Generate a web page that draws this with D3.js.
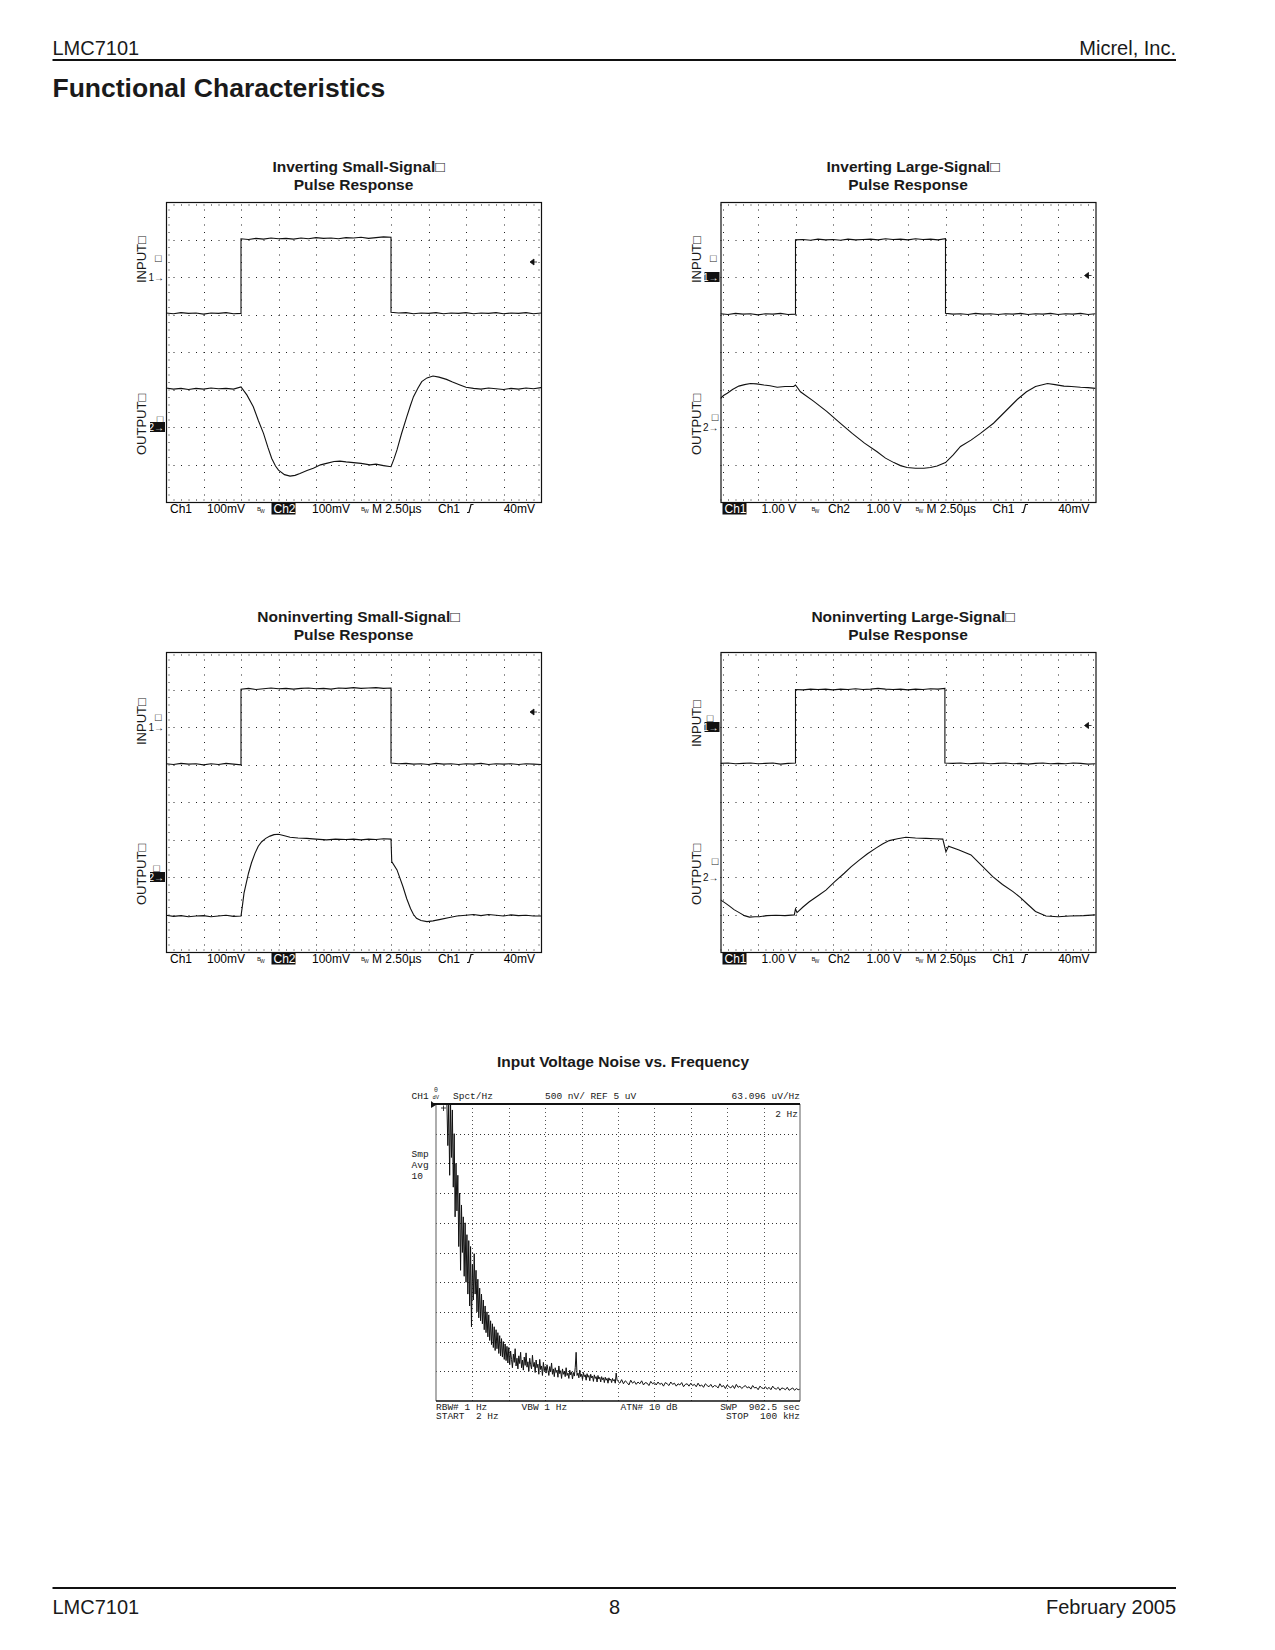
<!DOCTYPE html>
<html>
<head>
<meta charset="utf-8">
<script src="https://cdn.jsdelivr.net/npm/d3@7/dist/d3.min.js"></script>
<style>
html,body{margin:0;padding:0;background:#fff;}
svg{display:block;}
text{font-family:"Liberation Sans",Arial,Helvetica,sans-serif;fill:#1a1a1a;}
.mono{font-family:"Liberation Mono","DejaVu Sans Mono",monospace;white-space:pre;}
.pre{white-space:pre;}
</style>
</head>
<body>
<svg id="page" width="1275" height="1650"></svg>
<script>
// ---------------- page text ----------------
const headerLeft = "LMC7101";
const headerRight = "Micrel, Inc.";
const sectionTitle = "Functional Characteristics";
const footerLeft = "LMC7101";
const footerCenter = "8";
const footerRight = "February 2005";

// ---------------- scope settings ----------------
const timePerDivUs = 2.5;
const timeDivs = 10;
const vertDivs = 8;
const ch1GroundDiv = 2;
const ch2GroundDiv = 6;
const triggerLevelMv = 40;

const titleInvSmall = ["Inverting Small-Signal\u25A1", "Pulse Response"];
const titleInvLarge = ["Inverting Large-Signal\u25A1", "Pulse Response"];
const titleNonInvSmall = ["Noninverting Small-Signal\u25A1", "Pulse Response"];
const titleNonInvLarge = ["Noninverting Large-Signal\u25A1", "Pulse Response"];
const inputLabel = "INPUT\u25A1";
const outputLabel = "OUTPUT\u25A1";
const smallSignalLabels = ["Ch1", "100mV", "Ch2", "100mV", "M 2.50\u00B5s", "Ch1", "40mV"];
const largeSignalLabels = ["Ch1", "1.00 V", "Ch2", "1.00 V", "M 2.50\u00B5s", "Ch1", "40mV"];

// ---------------- traces [time us, level] ----------------
// Inverting small-signal (mV)
const invSmallInput = [[0,-96],[0.5,-98],[1,-95],[1.5,-97],[2,-96],[2.5,-99],[3,-96],[3.5,-97],[4,-95],[4.5,-98],[5,-97],
 [5,102],[5.5,100],[6,103],[6.5,101],[7,104],[7.5,102],[8,103],[8.5,101],[9,104],[9.5,102],[10,105],[10.5,103],[11,104],[11.5,102],[12,105],[12.5,104],[13,106],[13.5,103],[14,105],[14.5,107],[15,106],
 [15,-94],[15.5,-96],[16,-95],[16.5,-98],[17,-96],[17.5,-97],[18,-95],[18.5,-98],[19,-96],[19.5,-97],[20,-95],[20.5,-98],[21,-96],[21.5,-97],[22,-95],[22.5,-98],[23,-96],[23.5,-97],[24,-95],[24.5,-98],[25,-96]];
const invSmallOutput = [[0,104],[0.5,101],[1,103],[1.5,100],[2,103],[2.5,101],[3,104],[3.5,102],[4,103],[4.5,101],[5,107],
 [5.4,85],[5.82,54],[6.15,18],[6.5,-17],[6.8,-55],[7.05,-84],[7.3,-104],[7.5,-115],[7.9,-127],[8.27,-131],[8.6,-129],[8.93,-124],
 [9.4,-116],[9.82,-110],[10.3,-101],[10.7,-97],[11.2,-92],[11.6,-91],[12,-93],[12.5,-95],[13,-97],[13.6,-101],[14,-99],[14.5,-103],[15,-106],
 [15.2,-85],[15.4,-61],[15.7,-18],[16.05,27],[16.3,58],[16.5,81],[16.8,104],[17.05,121],[17.4,131],[17.8,136],[18.2,133],[18.7,127],
 [19.1,120],[19.6,112],[20,106],[20.5,103],[21,101],[21.5,104],[22,102],[22.5,100],[23,103],[23.5,101],[24,104],[24.5,102],[25,105]];

// Inverting large-signal (V)
const invLargeInput = [[0,-0.98],[0.5,-1.0],[1,-0.97],[1.5,-0.99],[2,-0.98],[2.5,-1.01],[3,-0.98],[3.5,-0.99],[4,-0.97],[4.5,-1.0],[5,-0.99],
 [5,0.99],[5.5,1.0],[6,0.98],[6.5,1.01],[7,0.99],[7.5,1.0],[8,0.98],[8.5,1.01],[9,0.99],[9.5,1.0],[10,1.01],[10.5,0.99],[11,1.02],[11.5,1.0],[12,1.01],[12.5,0.99],[13,1.02],[13.5,1.0],[14,1.01],[14.5,0.99],[15,1.02],
 [15,-0.97],[15.5,-0.99],[16,-0.98],[16.5,-1.0],[17,-0.97],[17.5,-0.99],[18,-0.98],[18.5,-1.0],[19,-0.98],[19.5,-0.99],[20,-0.97],[20.5,-1.0],[21,-0.98],[21.5,-0.99],[22,-0.97],[22.5,-1.0],[23,-0.98],[23.5,-0.99],[24,-0.97],[24.5,-1.0],[25,-0.98]];
const invLargeOutput = [[0,0.76],[0.2,0.84],[0.45,0.9],[0.8,1.0],[1.22,1.09],[1.6,1.13],[2,1.16],[2.4,1.15],[2.9,1.12],[3.3,1.1],[3.78,1.06],[4.3,1.08],[4.88,1.08],[5,1.12],
 [5.33,0.94],[6.2,0.69],[7.1,0.41],[7.9,0.13],[8.78,-0.17],[9.6,-0.43],[10.44,-0.66],[11,-0.83],[11.56,-0.95],[12,-1.03],[12.44,-1.08],[13,-1.1],[13.56,-1.1],[14,-1.08],[14.44,-1.04],[15,-0.95],
 [15.5,-0.75],[16,-0.52],[16.7,-0.35],[17.33,-0.17],[18.2,0.1],[18.7,0.3],[19.3,0.54],[19.8,0.74],[20.4,0.94],[21,1.08],[21.8,1.16],[22.3,1.13],[22.9,1.09],[23.4,1.08],[24,1.06],[24.5,1.05],[25,1.03]];

// Noninverting small-signal (mV)
const nonInvSmallInput = [[0,-98],[0.5,-100],[1,-97],[1.5,-99],[2,-98],[2.5,-101],[3,-98],[3.5,-100],[4,-97],[4.5,-99],[5,-101],
 [5,101],[5.5,103],[6,100],[6.5,102],[7,104],[7.5,102],[8,103],[8.5,101],[9,103],[9.5,104],[10,102],[10.5,103],[11,101],[11.5,104],[12,103],[12.5,105],[13,103],[13.5,104],[14,105],[14.5,103],[15,104],
 [15,-96],[15.5,-98],[16,-97],[16.5,-99],[17,-98],[17.5,-100],[18,-97],[18.5,-99],[19,-98],[19.5,-100],[20,-98],[20.5,-99],[21,-97],[21.5,-100],[22,-98],[22.5,-99],[23,-98],[23.5,-100],[24,-98],[24.5,-99],[25,-100]];
const nonInvSmallOutput = [[0,-102],[0.5,-105],[1,-103],[1.5,-106],[2,-104],[2.5,-103],[3,-106],[3.5,-104],[4,-102],[4.5,-105],[5,-104],
 [5.1,-75],[5.2,-43],[5.5,10],[5.7,38],[5.93,63],[6.15,82],[6.38,94],[6.65,103],[6.93,109],[7.2,113],[7.5,114],[7.9,110],[8.27,106],[8.8,104],[9.38,103],
 [10,101],[10.7,99],[11.3,101],[12,100],[12.5,101],[13,99],[13.5,101],[14,100],[14.5,102],[15,101],
 [15.05,41],[15.4,19],[15.8,-26],[16.05,-58],[16.3,-84],[16.5,-100],[16.7,-110],[17,-116],[17.4,-119],[17.8,-117],[18.3,-113],[18.9,-108],[19.4,-104],
 [20,-102],[20.5,-100],[21,-103],[21.5,-100],[22,-102],[22.5,-104],[23,-101],[23.5,-103],[24,-102],[24.5,-104],[25,-104]];

// Noninverting large-signal (V)
const nonInvLargeInput = [[0,-0.97],[0.5,-0.96],[1,-0.98],[1.5,-0.97],[2,-0.96],[2.5,-0.98],[3,-0.97],[3.5,-0.96],[4,-0.99],[4.5,-0.97],[5,-0.96],
 [5,1.0],[5.5,0.99],[6,1.01],[6.5,1.0],[7,1.01],[7.5,0.99],[8,1.01],[8.5,1.0],[9,1.02],[9.5,1.0],[10,1.01],[10.5,1.03],[11,1.01],[11.5,1.0],[12,1.01],[12.5,0.99],[13,1.01],[13.5,1.0],[14,1.02],[14.5,1.01],[14.96,1.03],
 [14.96,-0.96],[15.5,-0.97],[16,-0.96],[16.5,-0.98],[17,-0.97],[17.5,-0.96],[18,-0.98],[18.5,-0.97],[19,-0.96],[19.5,-0.98],[20,-0.97],[20.5,-0.99],[21,-0.97],[21.5,-0.96],[22,-0.98],[22.5,-0.97],[23,-0.98],[23.5,-0.96],[24,-0.97],[24.5,-0.99],[25,-0.98]];
const nonInvLargeOutput = [[0,-0.61],[0.3,-0.69],[0.58,-0.77],[0.9,-0.87],[1.25,-0.95],[1.6,-1.03],[1.93,-1.07],[2.3,-1.06],[2.58,-1.06],[3.1,-1.03],[3.7,-1.02],[4.3,-1.03],[4.92,-1.01],
 [5,-0.85],[5.1,-0.95],[5.5,-0.8],[5.92,-0.66],[6.5,-0.5],[7.03,-0.35],[7.6,-0.13],[8.25,0.1],[8.7,0.27],[9.25,0.45],[9.8,0.62],[10.36,0.77],[10.8,0.88],[11.25,0.97],[11.8,1.02],[12.36,1.06],
 [13,1.04],[13.7,1.03],[14.3,1.02],[14.82,1.01],[15.03,0.67],[15.2,0.82],[15.9,0.72],[16.7,0.59],[17.4,0.31],[18.15,0.01],[18.8,-0.2],[19.5,-0.39],[20,-0.55],[20.4,-0.7],[21,-0.92],[21.7,-1.04],
 [22.5,-1.06],[23.3,-1.04],[24.2,-1.03],[25,-1.01]];

// ---------------- noise analyzer ----------------
const noiseTitle = "Input Voltage Noise vs. Frequency";
const noiseStartKHz = 0.002;
const noiseStopKHz = 100;
const noiseRefNv = 5000;      // REF 5 uV at top
const noiseNvPerDiv = 500;    // 500 nV / div
const noiseHeaderTexts = ["CH1", "Spct/Hz", "500 nV/ REF 5 uV", "63.096 uV/Hz", "2 Hz"];
const noiseSideTexts = ["Smp", "Avg", "10"];
const noiseFooterTexts = ["RBW# 1 Hz", "VBW 1 Hz", "ATN# 10 dB", "SWP  902.5 sec", "START  2 Hz", "STOP  100 kHz"];
// off-scale start (clipped at top)
const noiseLead = [[0.002, 6000], [2.8, 6000]];
// 3.0 .. 20.0 kHz every 0.25 kHz (nV/rtHz)
const noiseSegA = [5600,4300,5400,3800,5200,4100,4900,3600,4500,3100,4000,3200,3800,2600,3500,2200,3300,2500,3100,2100,
 3000,2000,2800,1800,2700,1600,2600,1250,2300,1700,2480,1800,2200,1500,2050,1400,1900,1350,1800,1300,
 1700,1200,1600,1150,1500,1080,1450,1020,1350,950,1300,900,1250,850,1200,880,1150,800,1100,760,
 1050,740,1000,700,960,680,920,640,900];
// 20.25 .. 50.0 kHz every 0.25 kHz
const noiseSegB = [610,840,700,560,790,650,880,590,720,540,
 760,630,820,560,690,520,740,600,810,570,
 660,500,720,610,540,770,580,650,480,690,
 560,620,450,700,530,590,430,650,510,580,
 470,610,520,430,580,490,640,450,540,410,
 560,480,520,400,590,460,510,380,540,450,
 500,410,560,430,470,380,520,440,490,370,
 480,420,560,820,430,470,390,520,410,450,
 360,480,410,440,350,460,400,430,340,450,
 390,420,330,440,380,410,320,430,370,400,
 320,410,360,390,310,400,350,380,300,390,
 350,370,310,380,340,360,300,470,350,330];
// 50.5 .. 100 kHz every 0.5 kHz
const noiseSegC = [300,360,290,340,310,270,350,300,330,280,
 320,290,340,270,310,300,260,330,290,310,
 270,320,280,300,250,310,290,260,320,280,
 300,250,290,270,310,240,280,290,250,300,
 260,280,240,300,250,270,230,290,260,240,
 280,230,260,250,220,290,240,260,210,270,
 240,220,260,210,280,230,250,210,240,260,
 220,240,200,260,220,230,190,250,220,210,
 240,200,230,190,250,210,200,230,180,220,
 210,190,230,180,200,220,180,210,190,200];

// ---------------- drawing ----------------
const svg = d3.select("#page");
const defs = svg.append("defs");
const W = 375, H = 300;
const ink = "#111";

// header / footer
svg.append("text").attr("x", 52.5).attr("y", 54.5).attr("font-size", 20).text(headerLeft);
svg.append("text").attr("x", 1176).attr("y", 54.5).attr("font-size", 20).attr("text-anchor", "end").text(headerRight);
svg.append("line").attr("x1", 52.5).attr("x2", 1176).attr("y1", 60).attr("y2", 60).attr("stroke", ink).attr("stroke-width", 2);
svg.append("text").attr("x", 52.5).attr("y", 96.5).attr("font-size", 26.5).attr("font-weight", "bold").text(sectionTitle);
svg.append("line").attr("x1", 52.5).attr("x2", 1176).attr("y1", 1588).attr("y2", 1588).attr("stroke", ink).attr("stroke-width", 2);
svg.append("text").attr("x", 52.5).attr("y", 1613.5).attr("font-size", 20).text(footerLeft);
svg.append("text").attr("x", 614.5).attr("y", 1613.5).attr("font-size", 20).attr("text-anchor", "middle").text(footerCenter);
svg.append("text").attr("x", 1176).attr("y", 1613.5).attr("font-size", 20).attr("text-anchor", "end").text(footerRight);

const scopes = [
  {id: 1, title: titleInvSmall, left: 166, top: 202, vpd: 100, input: invSmallInput, output: invSmallOutput,
   labels: smallSignalLabels, inverted: 2, inEnd: 81, inBox: [-7.7, 56.3], outBox: [-6, 216.5]},
  {id: 2, title: titleInvLarge, left: 720.5, top: 202, vpd: 1, input: invLargeInput, output: invLargeOutput,
   labels: largeSignalLabels, inverted: 1, inEnd: 81, inBox: [-7.2, 56.3], outBox: [-5.5, 214.5]},
  {id: 3, title: titleNonInvSmall, left: 166, top: 652, vpd: 100, input: nonInvSmallInput, output: nonInvSmallOutput,
   labels: smallSignalLabels, inverted: 2, inEnd: 93, inBox: [-7.7, 64.5], outBox: [-9.3, 216]},
  {id: 4, title: titleNonInvLarge, left: 720.5, top: 652, vpd: 1, input: nonInvLargeInput, output: nonInvLargeOutput,
   labels: largeSignalLabels, inverted: 1, inEnd: 95, inBox: [-10.5, 66], outBox: [-5.5, 208.5]}
];

// bottom label x offsets from box left (Ch1, V1, Ch2, V2, timebase, trig src, trig level end)
const labelOffsets = [4, 41, 107.5, 146, 206, 272, 369];
const bwOffsets = [91, 195];
const edgeOffset = 301;

function dottedLine(g, x1, y1, x2, y2, dash, color) {
  g.append("line").attr("x1", x1).attr("y1", y1).attr("x2", x2).attr("y2", y2)
    .attr("stroke", color).attr("stroke-width", 1).attr("stroke-dasharray", dash);
}

function drawScope(c) {
  const L = c.left, T = c.top;
  const g = svg.append("g");
  const x = d3.scaleLinear().domain([0, timePerDivUs * timeDivs]).range([L, L + W]);
  const yDiv = d3.scaleLinear().domain([0, vertDivs]).range([T, T + H]);
  const y1 = d3.scaleLinear().domain([ch1GroundDiv * c.vpd, (ch1GroundDiv - vertDivs) * c.vpd]).range([T, T + H]);
  const y2 = d3.scaleLinear().domain([ch2GroundDiv * c.vpd, (ch2GroundDiv - vertDivs) * c.vpd]).range([T, T + H]);
  const cx = L + W / 2;

  g.append("text").attr("x", cx + 5).attr("y", T - 30).attr("text-anchor", "middle")
    .attr("font-size", 15.5).attr("font-weight", "bold").text(c.title[0]);
  g.append("text").attr("x", cx).attr("y", T - 12.5).attr("text-anchor", "middle")
    .attr("font-size", 15.5).attr("font-weight", "bold").text(c.title[1]);

  // graticule
  const gc = "#222";
  d3.range(1, timeDivs).forEach(i => {
    const xx = Math.round(x(i * timePerDivUs)) + 0.5;
    dottedLine(g, xx, T, xx, T + H, "1 6.5", gc);
  });
  d3.range(1, vertDivs).forEach(j => {
    const yy = Math.round(yDiv(j)) + 0.5;
    dottedLine(g, L, yy, L + W, yy, "1 6.5", gc);
  });
  dottedLine(g, L + 3, T, L + 3, T + H, "1 6.5", gc);
  dottedLine(g, L + W - 2, T, L + W - 2, T + H, "1 6.5", gc);
  dottedLine(g, L, T + 3, L + W, T + 3, "1 6.5", gc);
  dottedLine(g, L, T + H - 2, L + W, T + H - 2, "1 6.5", gc);

  // traces
  const clipId = "clip" + c.id;
  defs.append("clipPath").attr("id", clipId).append("rect").attr("x", L).attr("y", T).attr("width", W).attr("height", H);
  const l1 = d3.line().x(d => x(d[0])).y(d => y1(d[1]));
  const l2 = d3.line().x(d => x(d[0])).y(d => y2(d[1]));
  g.append("path").attr("d", l1(c.input)).attr("fill", "none").attr("stroke", ink).attr("stroke-width", 1.1).attr("clip-path", `url(#${clipId})`);
  g.append("path").attr("d", l2(c.output)).attr("fill", "none").attr("stroke", ink).attr("stroke-width", 1.1).attr("clip-path", `url(#${clipId})`);

  // frame
  g.append("rect").attr("x", L + 0.5).attr("y", T + 0.5).attr("width", W).attr("height", H)
    .attr("fill", "none").attr("stroke", ink).attr("stroke-width", 1.2);

  // side labels
  g.append("text").attr("transform", `translate(${L - 19.7},${T + c.inEnd}) rotate(-90)`).attr("font-size", 13).text(inputLabel);
  g.append("text").attr("transform", `translate(${L - 19.7},${T + 253}) rotate(-90)`).attr("font-size", 13).text(outputLabel);
  g.append("text").attr("x", L + c.inBox[0]).attr("y", T + c.inBox[1] + 4).attr("text-anchor", "middle").attr("font-size", 11).text("\u25A1");
  g.append("text").attr("x", L + c.outBox[0]).attr("y", T + c.outBox[1] + 4).attr("text-anchor", "middle").attr("font-size", 11).text("\u25A1");

  // channel markers
  [[1, y1(0)], [2, y2(0)]].forEach(([ch, yy]) => {
    const inv = c.inverted === ch;
    if (inv) g.append("rect").attr("x", L - 16).attr("y", yy - 5).attr("width", 15).attr("height", 10).attr("fill", ink);
    g.append("text").attr("x", L - 2).attr("y", yy + 3.5).attr("text-anchor", "end").attr("font-size", 10)
      .style("fill", inv ? "#fff" : ink).text(ch + "\u2192");
  });

  // trigger arrow
  const ta = y1(c.vpd === 1 ? triggerLevelMv / 1000 : triggerLevelMv);
  const ax = L + W - 8;
  g.append("path").attr("d", `M${ax - 3},${ta} L${ax + 1},${ta - 3} L${ax + 1},${ta + 3} Z M${ax + 1},${ta} L${ax + 4},${ta}`)
    .attr("fill", ink).attr("stroke", ink).attr("stroke-width", 0.8);

  // bottom readout
  const by = T + H + 10.5;
  c.labels.forEach((t, i) => {
    const isInv = (i === 0 && c.inverted === 1) || (i === 2 && c.inverted === 2);
    const tx = L + labelOffsets[i];
    if (isInv) g.append("rect").attr("x", tx - 2).attr("y", T + H + 1).attr("width", 24).attr("height", 11.5).attr("fill", ink);
    g.append("text").attr("class", "pre").attr("x", tx).attr("y", by).attr("font-size", 12)
      .attr("text-anchor", i === 6 ? "end" : "start").style("fill", isInv ? "#fff" : "#000").text(t);
  });
  bwOffsets.forEach(o => {
    g.append("text").attr("x", L + o).attr("y", by - 1.5).attr("font-size", 6).text("B");
    g.append("text").attr("x", L + o + 3).attr("y", by).attr("font-size", 5).text("W");
  });
  const ex = L + edgeOffset;
  g.append("path").attr("d", `M${ex},${by} L${ex + 2},${by} L${ex + 4},${by - 8} L${ex + 6.5},${by - 8}`)
    .attr("fill", "none").attr("stroke", ink).attr("stroke-width", 1.2);
}
scopes.forEach(drawScope);

// ---------------- noise chart ----------------
(function () {
  const L = 436, R = 800, T = 1104, B = 1401;
  const g = svg.append("g");
  const x = d3.scaleLinear().domain([noiseStartKHz, noiseStopKHz]).range([L, R]);
  const y = d3.scaleLinear().domain([0, noiseRefNv]).range([B, T]).clamp(true);
  const xDiv = d3.scaleLinear().domain([0, 10]).range([L, R]);

  g.append("text").attr("x", 623).attr("y", 1067).attr("text-anchor", "middle")
    .attr("font-size", 15.5).attr("font-weight", "bold").text(noiseTitle);

  // grid
  d3.range(1, 10).forEach(i => {
    const xx = Math.round(xDiv(i)) + 0.5;
    dottedLine(g, xx, T, xx, B, "1 3", "#555");
  });
  d3.range(noiseNvPerDiv, noiseRefNv, noiseNvPerDiv).forEach(v => {
    const yy = Math.round(y(v)) + 0.5;
    dottedLine(g, L, yy, R, yy, "1 3", "#333");
  });

  // trace
  const segA = noiseSegA.map((v, i) => [3 + i * 0.25, v]);
  const segB = noiseSegB.map((v, i) => [20.25 + i * 0.25, v]);
  const segC = noiseSegC.map((v, i) => [50.5 + i * 0.5, v]);
  const pts = noiseLead.concat(segA, segB, segC);
  defs.append("clipPath").attr("id", "clipN").append("rect").attr("x", L).attr("y", T).attr("width", R - L).attr("height", B - T);
  g.append("path").attr("d", d3.line().x(d => x(d[0])).y(d => y(d[1]))(pts))
    .attr("fill", "none").attr("stroke", ink).attr("stroke-width", 1).attr("clip-path", "url(#clipN)");

  // frame
  g.append("line").attr("x1", L).attr("x2", L).attr("y1", T).attr("y2", B).attr("stroke", "#777").attr("stroke-width", 1.2);
  g.append("line").attr("x1", R).attr("x2", R).attr("y1", T).attr("y2", B).attr("stroke", "#777").attr("stroke-width", 1.2);
  g.append("line").attr("x1", L - 4).attr("x2", R).attr("y1", T).attr("y2", T).attr("stroke", ink).attr("stroke-width", 2);
  g.append("line").attr("x1", L).attr("x2", R).attr("y1", B).attr("y2", B).attr("stroke", ink).attr("stroke-width", 1.6);

  // markers
  g.append("path").attr("d", `M${L - 5},${T - 3} L${L},${T + 1} L${L - 5},${T + 4} Z`).attr("fill", ink);
  g.append("path").attr("d", `M${L + 5},${T + 4} L${L + 10},${T + 4} M${L + 7.5},${T + 1.5} L${L + 7.5},${T + 7}`)
    .attr("stroke", ink).attr("stroke-width", 0.8);

  // texts
  const ms = 9.5;
  const mt = (tx, ty, t, anchor) => g.append("text").attr("class", "mono").attr("x", tx).attr("y", ty)
    .attr("font-size", ms).attr("text-anchor", anchor || "start").text(t);
  mt(411.5, 1099, noiseHeaderTexts[0]);
  g.append("text").attr("class", "mono").attr("x", 434).attr("y", 1092).attr("font-size", 6.5).text("0");
  g.append("text").attr("class", "mono").attr("x", 432.5).attr("y", 1099).attr("font-size", 5.5).text("dV");
  mt(453, 1099, noiseHeaderTexts[1]);
  mt(545, 1099, noiseHeaderTexts[2]);
  mt(800, 1099, noiseHeaderTexts[3], "end");
  mt(798, 1116.5, noiseHeaderTexts[4], "end");
  noiseSideTexts.forEach((t, i) => mt(411.5, 1157 + i * 11, t));
  mt(436, 1410, noiseFooterTexts[0]);
  mt(521.5, 1410, noiseFooterTexts[1]);
  mt(620.5, 1410, noiseFooterTexts[2]);
  mt(800, 1410, noiseFooterTexts[3], "end");
  mt(436, 1418.5, noiseFooterTexts[4]);
  mt(800, 1418.5, noiseFooterTexts[5], "end");
})();
</script>
</body>
</html>
